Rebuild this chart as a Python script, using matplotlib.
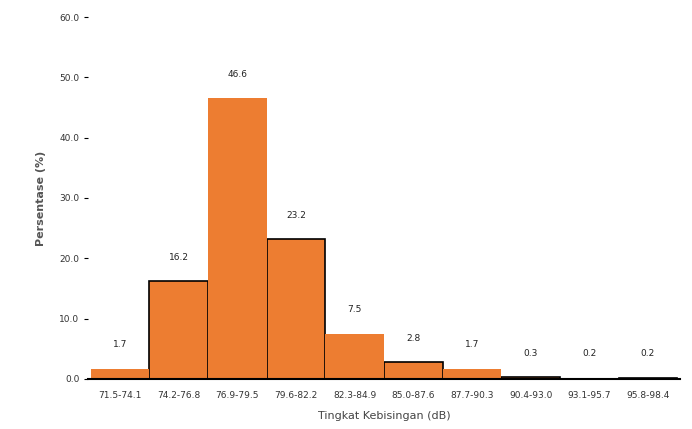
import numpy as np
import matplotlib.pyplot as plt

# Data
kelas = ['71.5-74.1', '74.2-76.8', '76.9-79.5', '79.6-82.2', '82.3-84.9',
         '85.0-87.6', '87.7-90.3', '90.4-93.0', '93.1-95.7', '95.8-98.4']
persen = [1.7, 16.2, 46.6, 23.2, 7.5, 2.8, 1.7, 0.3, 0.2, 0.2]

oranye = '#ED7D31'

fig = plt.figure(figsize=(6.92, 4.29), dpi=100)
ax = fig.add_axes([0.127, 0.117, 0.856, 0.843])

x = np.arange(len(kelas))
for i in x:
    # kelas genap diberi garis tepi hitam, kelas ganjil menimpa di atasnya
    if i % 2 == 1:
        ax.bar(i, persen[i], width=1.0, color=oranye, edgecolor='black',
               linewidth=1.2, zorder=2)
    else:
        ax.bar(i, persen[i], width=1.0, color=oranye, linewidth=0, zorder=3)
    ax.text(i, persen[i] + 3.2, f'{persen[i]:.1f}', ha='center', va='bottom',
            fontsize=6.5, color='#222222')

ax.set_xlim(-0.55, 9.55)
ax.set_ylim(0, 60)
ax.set_yticks(np.arange(0, 61, 10))
ax.set_yticklabels([f'{v:.1f}' for v in np.arange(0, 61, 10)], fontsize=6.5, color='#333333')
ax.set_xticks(x)
ax.set_xticklabels(kelas, fontsize=6.5, color='#333333')
ax.tick_params(axis='x', length=0, pad=9)
ax.tick_params(axis='y', length=3, direction='out', pad=3)
ax.spines['left'].set_visible(False)

for s in ['top', 'right']:
    ax.spines[s].set_visible(False)
ax.spines['bottom'].set_linewidth(1.5)
ax.spines['bottom'].set_zorder(4)

ax.set_xlabel('Tingkat Kebisingan (dB)', fontsize=8, color='#444444', labelpad=8)
ax.set_ylabel('Persentase (%)', fontsize=8, color='#555555', fontweight='bold', labelpad=10)

plt.savefig('out.png', dpi=100)
